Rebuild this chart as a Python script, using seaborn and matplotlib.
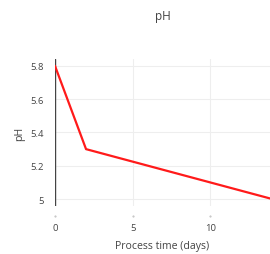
import pandas as pd
import matplotlib
matplotlib.use("Agg")
import matplotlib.pyplot as plt
import seaborn as sns

# values
days = [0, 2, 14]
ph = [5.8, 5.3, 5.0]
xticks = [0, 5, 10]
yticks = [5.0, 5.2, 5.4, 5.6, 5.8]
ytick_labels = ["5", "5.2", "5.4", "5.6", "5.8"]

df = pd.DataFrame({"days": days, "ph": ph})

sns.set_style("white")
plt.rcParams['font.family'] = ['Open Sans', 'DejaVu Sans']

fig = plt.figure(figsize=(2.7, 2.55), dpi=100)
ax = fig.add_axes([0.2037, 0.188, 0.7963, 0.577])

sns.lineplot(data=df, x="days", y="ph", color="#ff1a1a", linewidth=1.6, ax=ax)

ax.set_xlim(0, 13.85)
ax.set_ylim(4.958, 5.842)
ax.set_xticks(xticks)
ax.set_yticks(yticks)
ax.set_yticklabels(ytick_labels)
ax.grid(True, color="#eeeeee", linewidth=0.8)
ax.set_axisbelow(True)
for s in ax.spines.values():
    s.set_visible(False)
ax.axvline(0, color="#444444", linewidth=1.0, zorder=1)

ax.tick_params(axis="both", length=0, labelsize=6.8, colors="#444444")
ax.tick_params(axis="x", pad=12)
ax.tick_params(axis="y", pad=8)
for t in xticks:
    ax.plot(t, 4.898, marker=".", markersize=1.0, color="#bbbbbb", clip_on=False)

ax.set_xlabel("Process time (days)", fontsize=7.6, color="#444444", labelpad=6)
ax.set_ylabel("pH", fontsize=7.6, color="#444444", labelpad=4)
fig.text(0.604, 0.937, "pH", fontsize=8.5, color="#444444", ha="center", va="center")

fig.savefig("out.png", dpi=100)
